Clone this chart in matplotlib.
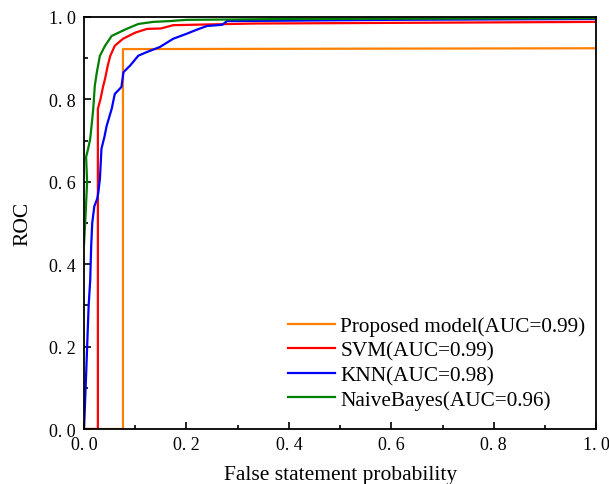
import numpy as np
import matplotlib.pyplot as plt
from matplotlib.ticker import MultipleLocator, FuncFormatter

prop_x = [0.0, 0.076, 0.076, 1.0]
prop_y = [0.0, 0.0, 0.922, 0.924]

svm_x = [0.0, 0.027, 0.027, 0.032, 0.037, 0.041, 0.046, 0.051, 0.06, 0.076, 0.1, 0.123,
         0.15, 0.174, 0.25, 0.33, 0.5, 1.0]
svm_y = [0.0, 0.0, 0.777, 0.8, 0.83, 0.85, 0.88, 0.905, 0.93, 0.947, 0.962, 0.971,
         0.972, 0.98, 0.982, 0.984, 0.985, 0.988]

knn_x = [0.0, 0.004, 0.009, 0.012, 0.014, 0.016, 0.02, 0.026, 0.028, 0.031, 0.034, 0.04,
         0.044, 0.054, 0.06, 0.073, 0.077, 0.09, 0.106, 0.123, 0.148, 0.174, 0.2,
         0.22, 0.24, 0.27, 0.279, 0.4, 0.6, 1.0]
knn_y = [0.0, 0.13, 0.3, 0.36, 0.445, 0.5, 0.54, 0.56, 0.575, 0.607, 0.68, 0.71,
         0.735, 0.777, 0.813, 0.83, 0.866, 0.882, 0.906, 0.915, 0.927, 0.947, 0.959,
         0.969, 0.978, 0.981, 0.99, 0.991, 0.993, 0.995]

nb_x = [0.0, 0.003, 0.006, 0.004, 0.008, 0.012, 0.015, 0.018, 0.021, 0.025, 0.031, 0.041,
        0.054, 0.083, 0.106, 0.135, 0.168, 0.2, 0.4, 1.0]
nb_y = [0.45, 0.52, 0.6, 0.66, 0.68, 0.704, 0.74, 0.777, 0.833, 0.866, 0.906, 0.93,
        0.954, 0.971, 0.983, 0.988, 0.99, 0.993, 0.995, 0.997]

labels = ['Proposed model(AUC=0.99)', 'SVM(AUC=0.99)', 'KNN(AUC=0.98)', 'NaiveBayes(AUC=0.96)']
colors = ['#ff8000', '#ff0000', '#0000ff', '#008000']

fig = plt.figure(figsize=(6.09, 4.85), dpi=100)
ax = fig.add_axes([0.138, 0.1134, 0.841, 0.8496])

ax.plot(prop_x, prop_y, color=colors[0], lw=1.6, label=labels[0])
ax.plot(svm_x, svm_y, color=colors[1], lw=1.6, label=labels[1])
ax.plot(knn_x, knn_y, color=colors[2], lw=1.6, label=labels[2])
ax.plot(nb_x, nb_y, color=colors[3], lw=1.6, label=labels[3])

ax.set_xlim(0, 1)
ax.set_ylim(0, 1)
ax.xaxis.set_major_locator(MultipleLocator(0.2))
ax.xaxis.set_minor_locator(MultipleLocator(0.1))
ax.yaxis.set_major_locator(MultipleLocator(0.2))
ax.yaxis.set_minor_locator(MultipleLocator(0.1))
fmt = FuncFormatter(lambda v, p: ('%.1f' % v).replace('.', '. '))
ax.xaxis.set_major_formatter(fmt)
ax.yaxis.set_major_formatter(fmt)
ax.tick_params(which='both', direction='in', width=1.2, labelsize=13)
ax.tick_params(which='major', length=5)
ax.tick_params(which='minor', length=3)
ax.tick_params(axis='x', pad=5)
ax.tick_params(axis='y', pad=6)
for lab in ax.get_xticklabels() + ax.get_yticklabels():
    lab.set_family('Liberation Serif')
for s in ax.spines.values():
    s.set_linewidth(1.3)

ax.set_xlabel('False statement probability', fontsize=15.5, family='Liberation Serif')
ax.xaxis.set_label_coords(0.5, -0.088, transform=ax.transAxes)
ax.set_ylabel('ROC', fontsize=15.5, family='Liberation Serif')
ax.yaxis.set_label_coords(-0.101, 0.5, transform=ax.transAxes)

ax.legend(loc='lower right', bbox_to_anchor=(1.016, 0.0), frameon=False,
          prop={'family': 'Liberation Serif', 'size': 15.3},
          handlelength=2.2, handletextpad=0.25, labelspacing=0.22, borderaxespad=0.5)

fig.savefig('out.png', dpi=100)
